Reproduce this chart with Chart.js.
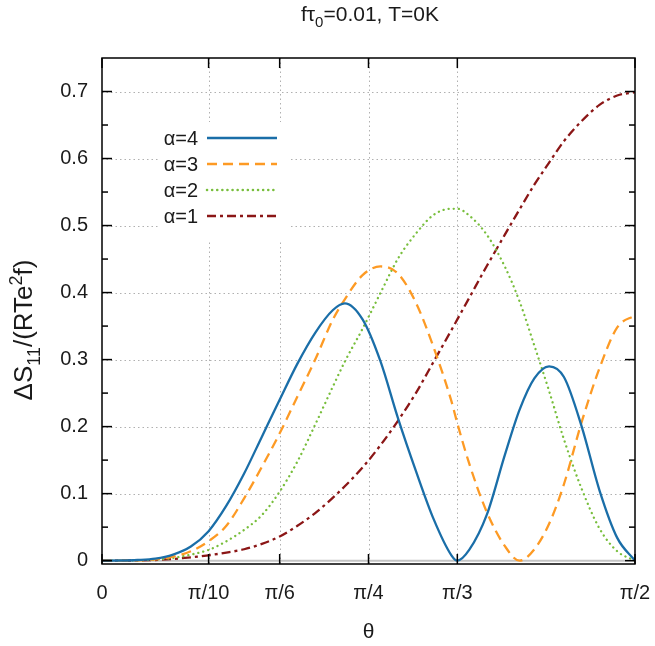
<!DOCTYPE html>
<html>
<head>
<meta charset="utf-8">
<script src="https://cdn.jsdelivr.net/npm/chart.js@4.4.0/dist/chart.umd.min.js"></script>
<style>
  html, body { margin: 0; padding: 0; background: #fff; }
</style>
</head>
<body>
<canvas id="chart" width="655" height="646"></canvas>
<script>
// theta in degrees (0 .. 90 = pi/2)
const thetaDeg = [0, 3, 6, 9, 12, 15, 18, 21, 24, 27, 30, 33, 36, 39, 41, 44, 47, 50, 53, 56, 59, 60, 62, 65, 68, 70.5, 73, 75.5, 78, 81, 84, 87, 90];

const alpha4 = [0, 0.0002, 0.001, 0.003, 0.009, 0.021, 0.044, 0.082, 0.13, 0.185, 0.24, 0.294, 0.34, 0.374, 0.384, 0.36, 0.298, 0.212, 0.134, 0.062, 0.008, 0, 0.016, 0.069, 0.157, 0.225, 0.272, 0.29, 0.274, 0.2, 0.105, 0.034, 0];
const alpha3 = [0, 0.0001, 0.0005, 0.002, 0.006, 0.014, 0.029, 0.052, 0.093, 0.14, 0.19, 0.245, 0.30, 0.36, 0.39, 0.426, 0.439, 0.428, 0.385, 0.318, 0.238, 0.205, 0.145, 0.072, 0.022, 0, 0.017, 0.055, 0.114, 0.207, 0.287, 0.348, 0.366];
const alpha2 = [0, 0.0001, 0.0004, 0.0015, 0.004, 0.009, 0.016, 0.029, 0.046, 0.068, 0.103, 0.148, 0.203, 0.26, 0.297, 0.346, 0.399, 0.451, 0.488, 0.516, 0.525, 0.525, 0.515, 0.486, 0.439, 0.387, 0.321, 0.253, 0.181, 0.107, 0.048, 0.014, 0];
const alpha1 = [0, 0.0001, 0.0004, 0.001, 0.0025, 0.005, 0.008, 0.012, 0.017, 0.025, 0.036, 0.052, 0.071, 0.094, 0.111, 0.139, 0.172, 0.209, 0.25, 0.297, 0.344, 0.36, 0.392, 0.44, 0.486, 0.524, 0.561, 0.594, 0.626, 0.656, 0.68, 0.694, 0.699];

const seriesLabels = ['α=4', 'α=3', 'α=2', 'α=1'];

const xTickValues = [0, 18, 30, 45, 60, 90];
const xTickLabels = ['0', 'π/10', 'π/6', 'π/4', 'π/3', 'π/2'];
const yTickValues = [0, 0.1, 0.2, 0.3, 0.4, 0.5, 0.6, 0.7];
const yTickLabels = ['0', '0.1', '0.2', '0.3', '0.4', '0.5', '0.6', '0.7'];
const yMinorTicks = [0.05, 0.15, 0.25, 0.35, 0.45, 0.55, 0.65];

const FONT = "'Liberation Sans', Arial, sans-serif";
const TEXT = '#1a1a1a';

const styles = [
  { color: '#1a6ea8', dash: [], cap: 'butt' },
  { color: '#fd9a24', dash: [10, 6], cap: 'butt' },
  { color: '#78be3c', dash: [0.1, 5], cap: 'round' },
  { color: '#8b1616', dash: [9, 4, 3, 4], cap: 'butt' }
];
const values = [alpha4, alpha3, alpha2, alpha1];

// text with sub/superscripts: parts = [[text, 'n'|'sub'|'sup'], ...]
function richText(ctx, parts, cx, cy, size) {
  const widths = parts.map(([t, k]) => {
    ctx.font = (k === 'n' ? size : Math.round(size * 0.7)) + 'px ' + FONT;
    return ctx.measureText(t).width;
  });
  let x = cx - widths.reduce((a, b) => a + b, 0) / 2;
  ctx.textAlign = 'left';
  ctx.textBaseline = 'alphabetic';
  parts.forEach(([t, k], i) => {
    ctx.font = (k === 'n' ? size : Math.round(size * 0.7)) + 'px ' + FONT;
    const dy = k === 'sub' ? size * 0.3 : k === 'sup' ? -size * 0.4 : 0;
    ctx.fillText(t, x, cy + dy);
    x += widths[i];
  });
}

function line(ctx, x1, y1, x2, y2) {
  ctx.beginPath();
  ctx.moveTo(x1, y1);
  ctx.lineTo(x2, y2);
  ctx.stroke();
}

const frame = {
  id: 'frame',
  beforeDatasetsDraw(chart) {
    const { ctx, chartArea: a, scales: { x, y } } = chart;
    ctx.save();
    ctx.strokeStyle = '#b0b0b0';
    ctx.lineWidth = 1;
    ctx.setLineDash([1.5, 3]);
    xTickValues.forEach(v => {
      if (v > 0 && v < 90) {
        const px = Math.round(x.getPixelForValue(v)) + 0.5;
        line(ctx, px, a.top, px, a.bottom);
      }
    });
    yTickValues.forEach(v => {
      if (v > 0) {
        const py = Math.round(y.getPixelForValue(v)) + 0.5;
        line(ctx, a.left, py, a.right, py);
      }
    });
    // key area hides the grid
    ctx.fillStyle = '#fff';
    ctx.fillRect(158, 122, 132, 118);
    // zero axis
    ctx.setLineDash([]);
    ctx.strokeStyle = '#c4c4c4';
    ctx.lineWidth = 2;
    const y0 = y.getPixelForValue(0);
    line(ctx, a.left, y0, a.right, y0);
    ctx.restore();
  },
  afterDatasetsDraw(chart) {
    const { ctx, chartArea: a, scales: { x, y } } = chart;
    ctx.save();
    ctx.strokeStyle = '#000';
    ctx.lineWidth = 1.5;
    ctx.setLineDash([]);
    ctx.strokeRect(a.left, a.top, a.right - a.left, a.bottom - a.top);
    xTickValues.forEach(v => {
      const px = x.getPixelForValue(v);
      line(ctx, px, a.bottom, px, a.bottom - 10);
      line(ctx, px, a.top, px, a.top + 10);
    });
    yTickValues.forEach(v => {
      const py = y.getPixelForValue(v);
      line(ctx, a.left, py, a.left + 10, py);
      line(ctx, a.right, py, a.right - 10, py);
    });
    yMinorTicks.forEach(v => {
      const py = y.getPixelForValue(v);
      line(ctx, a.left, py, a.left + 6, py);
      line(ctx, a.right, py, a.right - 6, py);
    });

    // x tick labels
    ctx.font = '20px ' + FONT;
    ctx.fillStyle = TEXT;
    ctx.textAlign = 'center';
    ctx.textBaseline = 'middle';
    xTickValues.forEach((v, i) => {
      ctx.fillText(xTickLabels[i], x.getPixelForValue(v), 593);
    });

    // key
    ctx.textAlign = 'right';
    seriesLabels.forEach((lab, i) => {
      const ry = 138 + i * 26;
      ctx.fillText(lab, 198, ry + 1);
      ctx.strokeStyle = styles[i].color;
      ctx.lineWidth = 2.5;
      ctx.lineCap = styles[i].cap;
      ctx.setLineDash(styles[i].dash);
      line(ctx, 207, ry, 277, ry);
    });
    ctx.setLineDash([]);
    ctx.lineCap = 'butt';

    // titles
    richText(ctx, [['fτ', 'n'], ['0', 'sub'], ['=0.01, T=0K', 'n']], 370, 21, 21);
    ctx.font = '21px ' + FONT;
    ctx.textAlign = 'center';
    ctx.textBaseline = 'middle';
    ctx.fillText('θ', (a.left + a.right) / 2, 632);
    ctx.save();
    ctx.translate(32, 330);
    ctx.rotate(-Math.PI / 2);
    richText(ctx, [['ΔS', 'n'], ['11', 'sub'], ['/(RTe', 'n'], ['2', 'sup'], ['f)', 'n']], 0, 0, 26);
    ctx.restore();
    ctx.restore();
  }
};

new Chart(document.getElementById('chart').getContext('2d'), {
  type: 'line',
  data: {
    datasets: values.map((vals, i) => ({
      label: seriesLabels[i],
      data: thetaDeg.map((t, j) => ({ x: t, y: vals[j] })),
      borderColor: styles[i].color,
      borderWidth: 2.3,
      borderDash: styles[i].dash,
      borderCapStyle: styles[i].cap,
      pointRadius: 0,
      fill: false,
      cubicInterpolationMode: 'monotone'
    }))
  },
  options: {
    responsive: false,
    animation: false,
    layout: { padding: { top: 58, right: 20, left: 0, bottom: 0 } },
    plugins: {
      legend: { display: false },
      tooltip: { enabled: false }
    },
    scales: {
      x: {
        type: 'linear',
        min: 0,
        max: 90,
        grid: { display: false, drawTicks: false },
        border: { display: false },
        afterBuildTicks: s => { s.ticks = xTickValues.map(v => ({ value: v })); },
        afterFit: s => { s.height = 82; },
        ticks: { display: false }
      },
      y: {
        min: -0.005,
        max: 0.75,
        grid: { display: false, drawTicks: false },
        border: { display: false },
        afterBuildTicks: s => { s.ticks = yTickValues.map(v => ({ value: v })); },
        afterFit: s => { s.width = 102; },
        ticks: {
          padding: 14,
          color: TEXT,
          font: { family: FONT, size: 20 },
          callback: (v, i) => yTickLabels[i]
        }
      }
    }
  },
  plugins: [frame]
});
</script>
</body>
</html>
